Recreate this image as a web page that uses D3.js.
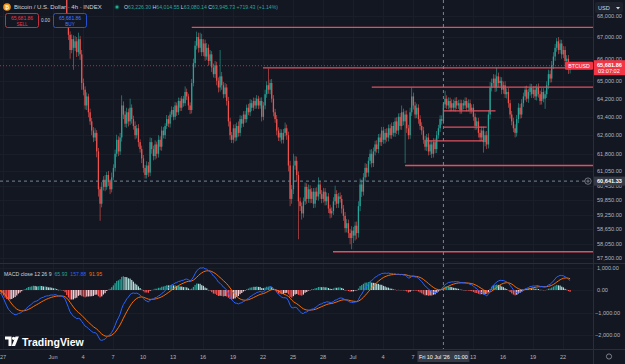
<!DOCTYPE html>
<meta charset="utf-8">
<style>
body { margin: 0; background: #131722; }
svg text { font-family: "Liberation Sans", "DejaVu Sans", sans-serif; }
</style>
<svg width="625" height="364"></svg>
<script src="https://d3js.org/d3.v7.min.js"></script>
<script>
// ---- data (4h candles, BTC index) ----
var startTime = Date.UTC(2026, 4, 25, 1);   // first candle, off-screen left
var firstOpen = 74200;
var closes = [
  74300, 74500, 74700, 74500, 74600, 74400,   // May 25
  74200, 74400, 74000, 73700, 73300, 72800,   // May 26
  71900, 71000, 70600, 70300, 70600, 70200,   // May 27
  70400, 70100, 70500, 70800, 70400, 70700,
  70900, 70600, 71000, 71200, 70900, 71100,
  71300, 71000, 70800, 71100, 71400, 71200,
  71000, 71300, 71100, 70900, 71200, 71000,   // May 31
  70800, 71100, 70600, 70300, 70700, 70400,   // Jun 1
  70100, 69200, 67800, 67100, 66400, 66900,
  66500, 66800, 66300, 66900, 66200, 64900,
  64600, 63900, 64300, 63600, 63200, 62800,
  62500, 62700, 61900, 60300, 59700, 60400,   // Jun 5
  60700, 60400, 60900, 60600, 60300, 60800,
  61200, 61800, 62400, 61900, 62500, 63900,
  63500, 63100, 63600, 63200, 63800, 63300,
  63000, 62600, 62900, 62300, 62000, 61600,
  61200, 60900, 61300, 61000, 62300, 62000,   // Jun 10
  61700, 62200, 61800, 62400, 62100, 62800,
  62600, 63000, 63300, 63100, 63500, 63700,
  63400, 63900, 63600, 64100, 63800, 64200,
  64000, 64500, 64300, 63900, 63700, 64900,
  65800, 66600, 67000, 66500, 66900, 66300,   // Jun 15
  66700, 66100, 66500, 65900, 66200, 65600,
  65300, 65700, 65000, 64700, 65200, 64800,
  64400, 64700, 64100, 63200, 62600, 62400,
  62900, 62500, 63000, 62700, 63300, 63100,
  63500, 63300, 63800, 63600, 64000, 63800,   // Jun 20
  64100, 63900, 64200, 63900, 64100, 63400,
  63900, 64400, 64800, 64600, 64900, 64200,
  63600, 63300, 62800, 62500, 62700, 62400,
  62700, 62900, 62600, 61300, 59900, 60300,
  61300, 61500, 60900, 59800, 59600, 59300,   // Jun 25
  59800, 60400, 59900, 60300, 59900, 60200,
  59700, 60200, 60000, 60500, 60100, 59900,
  60200, 59800, 60000, 59500, 59300, 59400,
  59800, 60100, 59700, 60000, 59900, 59500,
  59200, 58700, 58900, 58500, 58300, 58600,   // Jun 30
  58400, 58800, 58500, 59600, 60500, 60200,   // Jul 1
  60800, 61200, 61000, 61500, 61800, 61400,
  61900, 62200, 62000, 62500, 62300, 62800,
  62400, 62700, 62500, 62900, 62600, 63000,
  62700, 63200, 62800, 63400, 63000, 63600,   // Jul 5
  63200, 63500, 62900, 62600, 63600, 64300,
  63900, 63500, 63800, 63300, 63000, 62800,
  62400, 62100, 62500, 61900, 62200, 61800,
  62300, 62000, 62600, 62900, 63300, 63226.30,
  63945.73, 64200, 63900, 64100, 63800, 64000, // Jul 10
  63800, 64100, 63900, 64000, 63700, 64000,
  63900, 64100, 63800, 64000, 63700, 63800,
  63400, 63000, 63200, 62700, 62500, 62800,
  62300, 62600, 62200, 63500, 64700, 64900,
  65100, 64700, 65200, 64900, 65000, 64600,   // Jul 15
  64800, 64400, 64500, 64000, 63500, 63200,
  62900, 62700, 63300, 63800, 63500, 64000,
  64300, 64600, 64200, 64500, 64700, 64400,
  64600, 64300, 64700, 64400, 64100, 64500,
  64200, 64400, 64800, 65300, 65100, 65700,   // Jul 20
  66100, 66500, 66800, 66400, 66700, 66200,
  66400, 65900, 66000, 65500, 65681.86        // Jul 22
];
var wickUp = [
  120, 90, 150, 80, 110, 140,
  90, 140, 100, 80, 120, 90,
  150, 200, 120, 180, 140, 110,
  120, 150, 100, 180, 90, 130,
  100, 140, 120, 90, 150, 110,
  110, 90, 160, 120, 100, 130,
  130, 100, 120, 150, 90, 110,
  120, 140, 100, 130, 110, 150,
  150, 300, 200, 180, 160, 220,
  180, 250, 200, 300, 150, 200,
  200, 150, 180, 120, 160, 150,
  150, 200, 120, 150, 100, 200,
  150, 200, 130, 170, 120, 200,
  150, 180, 220, 150, 200, 450,
  180, 150, 200, 160, 400, 150,
  150, 200, 150, 180, 120, 150,
  150, 120, 180, 150, 200, 180,
  150, 180, 120, 200, 150, 180,
  150, 120, 180, 150, 130, 160,
  140, 160, 130, 150, 140, 120,
  130, 250, 150, 120, 140, 180,
  200, 220, 250, 200, 300, 250,
  200, 180, 220, 160, 200, 150,
  180, 200, 160, 150, 1200, 200,
  150, 200, 150, 180, 160, 140,
  160, 180, 150, 200, 170, 150,
  150, 160, 140, 170, 180, 150,
  150, 140, 160, 130, 150, 160,
  150, 200, 180, 750, 160, 180,
  160, 150, 180, 140, 170, 150,
  170, 250, 160, 150, 200, 180,
  500, 200, 180, 150, 160, 150,
  160, 180, 150, 200, 170, 150,
  150, 160, 180, 300, 150, 170,
  160, 150, 170, 140, 160, 150,
  170, 350, 160, 150, 170, 160,
  150, 160, 170, 150, 160, 180,
  150, 160, 170, 200, 250, 200,
  180, 200, 170, 160, 180, 200,
  170, 160, 180, 150, 170, 160,
  160, 170, 200, 160, 170, 150,
  170, 160, 180, 150, 170, 300,
  160, 170, 180, 150, 200, 400,
  170, 160, 180, 150, 170, 160,
  160, 170, 150, 180, 160, 170,
  170, 160, 180, 150, 170, 160,
  68.82, 350, 150, 160, 150, 170,
  160, 150, 170, 150, 160, 150,
  150, 160, 150, 170, 160, 150,
  160, 150, 170, 160, 150, 170,
  170, 160, 180, 200, 250, 200,
  200, 180, 400, 170, 180, 160,
  170, 180, 160, 170, 150, 160,
  160, 170, 180, 200, 170, 180,
  170, 160, 180, 150, 170, 160,
  160, 170, 150, 180, 160, 170,
  170, 160, 180, 200, 170, 200,
  200, 180, 150, 200, 180, 170,
  180, 170, 160, 170, 150
];
var wickDown = [
  100, 130, 90, 120, 80, 110,
  120, 80, 150, 110, 130, 160,
  300, 250, 200, 180, 160, 220,
  140, 200, 110, 90, 160, 120,
  130, 90, 120, 150, 100, 140,
  90, 140, 110, 130, 120, 100,
  110, 120, 90, 100, 140, 120,
  100, 130, 160, 120, 90, 140,
  200, 250, 180, 240, 400, 150,
  1000, 150, 220, 180, 250, 300,
  250, 180, 200, 220, 150, 200,
  200, 150, 250, 300, 700, 150,
  150, 180, 120, 160, 200, 130,
  120, 150, 130, 200, 150, 180,
  200, 150, 180, 220, 160, 200,
  160, 180, 140, 200, 150, 200,
  200, 150, 150, 180, 150, 200,
  180, 150, 200, 160, 150, 170,
  140, 160, 130, 150, 170, 120,
  150, 130, 160, 120, 150, 140,
  150, 120, 160, 200, 180, 150,
  150, 200, 180, 220, 200, 180,
  180, 200, 150, 220, 180, 200,
  150, 180, 200, 220, 180, 200,
  180, 150, 200, 220, 200, 140,
  150, 170, 140, 160, 150, 180,
  140, 160, 150, 130, 170, 150,
  130, 150, 140, 160, 140, 200,
  150, 170, 160, 180, 200, 170,
  180, 160, 200, 150, 170, 160,
  160, 150, 200, 250, 300, 200,
  200, 180, 250, 1550, 200, 250,
  170, 150, 200, 160, 180, 170,
  180, 160, 150, 170, 200, 180,
  150, 170, 160, 180, 200, 170,
  160, 150, 180, 170, 150, 200,
  200, 180, 170, 200, 250, 450,
  300, 200, 250, 180, 200, 220,
  160, 180, 200, 170, 150, 180,
  160, 170, 150, 180, 160, 170,
  170, 160, 180, 170, 150, 160,
  160, 170, 150, 180, 160, 170,
  170, 1800, 200, 180, 170, 160,
  180, 170, 160, 200, 170, 180,
  170, 160, 180, 170, 150, 180,
  160, 180, 170, 150, 160, 170,
  146.16, 160, 150, 170, 160, 150,
  150, 170, 160, 150, 170, 160,
  170, 150, 160, 150, 170, 160,
  170, 180, 160, 200, 170, 150,
  450, 180, 200, 170, 200, 180,
  170, 200, 180, 190, 170, 200,
  180, 170, 190, 200, 180, 170,
  170, 200, 160, 170, 180, 160,
  160, 170, 150, 180, 160, 170,
  170, 160, 180, 150, 170, 160,
  160, 450, 170, 160, 180, 170,
  170, 200, 180, 190, 170, 200,
  170, 200, 180, 190, 170
];

// axis ticks
var priceTicks = [68000, 67000, 66000, 65000, 64200, 63400, 62600, 61800, 61050, 60450, 59850, 59250, 58650, 58050, 57500];
var macdTicks = [1000, 0, -1000, -2000];
var tickDates = ["2026-05-27", "2026-06-01", "2026-06-04", "2026-06-07", "2026-06-10", "2026-06-13", "2026-06-16",
  "2026-06-19", "2026-06-22", "2026-06-25", "2026-06-28", "2026-07-01", "2026-07-04", "2026-07-07",
  "2026-07-13", "2026-07-16", "2026-07-19", "2026-07-22"];
var tickLabels = ["27", "Jun", "4", "7", "10", "13", "16", "19", "22", "25", "28", "Jul", "4", "7", "13", "16", "19", "22"];

// horizontal levels drawn on the chart
var levelPrices = [67450, 65580, 64720, 61300, 57750, 63660, 62950, 62350];
var levelFrom = ["2026-06-14T21:00Z", "2026-06-22T00:00Z", "2026-07-02T21:00Z", "2026-07-06T05:00Z", "2026-06-29T00:00Z",
  "2026-07-10T01:00Z", "2026-07-10T01:00Z", "2026-07-08T09:00Z"];
var levelTo = [null, null, null, null, null, "2026-07-15T06:00Z", "2026-07-14T09:00Z", "2026-07-14T01:00Z"];

var crossTime = "2026-07-10T01:00Z", crossPrice = 60641.33;
var countdown = "03:07:02";

// ---- layout ----
var svg = d3.select("svg");
var plotR = 593, mainB = 263, macdT = 264, macdB = 349;
var bg = "#131722", gridColor = "#1a1e29", sepColor = "#2a2e39", axisText = "#b2b5be";
var upColor = "#26a69a", downColor = "#ef5350", levelColor = "#e0515f";

var x = d3.scaleUtc()
    .domain([new Date("2026-05-27T00:00Z"), new Date("2026-07-22T00:00Z")])
    .range([3, 563]);
var y = d3.scaleLog().domain([57500, 67000]).range([258, 37]);
var ym = d3.scaleLinear().domain([-2000, 1000]).range([335, 267.5]);

var H4 = 4 * 3600 * 1000;
var candles = closes.map(function(c, i) {
  var o = i ? closes[i - 1] : firstOpen;
  return { t: new Date(startTime + i * H4), o: o, c: c,
           h: Math.max(o, c) + wickUp[i], l: Math.min(o, c) - wickDown[i] };
});

// MACD 12 26 9 on close
function ema(vals, n) {
  var k = 2 / (n + 1), e = vals[0];
  return vals.map(function(v, i) { if (i) e = v * k + e * (1 - k); return e; });
}
var e12 = ema(closes, 12), e26 = ema(closes, 26);
var macd = closes.map(function(c, i) { return e12[i] - e26[i]; });
var signal = ema(macd, 9);
var hist = macd.map(function(m, i) { return m - signal[i]; });

svg.append("rect").attr("width", 625).attr("height", 364).attr("fill", bg);

var defs = svg.append("defs");
defs.append("clipPath").attr("id", "clipMain").append("rect")
    .attr("x", 0).attr("y", 0).attr("width", plotR).attr("height", mainB);
defs.append("clipPath").attr("id", "clipMacd").append("rect")
    .attr("x", 0).attr("y", macdT).attr("width", plotR).attr("height", macdB - macdT);

// grid
var grid = svg.append("g").attr("stroke", gridColor).attr("stroke-width", 1);
grid.selectAll(".gx").data(tickDates).enter().append("line")
    .attr("x1", function(d) { return Math.round(x(new Date(d))) + 0.5; })
    .attr("x2", function(d) { return Math.round(x(new Date(d))) + 0.5; })
    .attr("y1", 0).attr("y2", macdB);
grid.selectAll(".gy").data(priceTicks).enter().append("line")
    .attr("x1", 0).attr("x2", plotR)
    .attr("y1", function(d) { return Math.round(y(d)) + 0.5; })
    .attr("y2", function(d) { return Math.round(y(d)) + 0.5; });
grid.selectAll(".gm").data(macdTicks).enter().append("line")
    .attr("x1", 0).attr("x2", plotR)
    .attr("y1", function(d) { return Math.round(ym(d)) + 0.5; })
    .attr("y2", function(d) { return Math.round(ym(d)) + 0.5; });

// candles
var cg = svg.append("g").attr("clip-path", "url(#clipMain)");
var candle = cg.selectAll("g").data(candles).enter().append("g")
    .attr("fill", function(d) { return d.c >= d.o ? upColor : downColor; });
candle.append("rect")
    .attr("x", function(d) { return x(d.t) - 0.3; })
    .attr("width", 0.6)
    .attr("y", function(d) { return y(d.h); })
    .attr("height", function(d) { return Math.max(0.5, y(d.l) - y(d.h)); });
candle.append("rect")
    .attr("x", function(d) { return x(d.t) - 0.65; })
    .attr("width", 1.3)
    .attr("y", function(d) { return y(Math.max(d.o, d.c)); })
    .attr("height", function(d) { return Math.max(0.8, Math.abs(y(d.o) - y(d.c))); });

// levels
var lg = svg.append("g").attr("clip-path", "url(#clipMain)")
    .attr("stroke", levelColor).attr("stroke-width", 1.3);
levelPrices.forEach(function(p, i) {
  lg.append("line")
    .attr("x1", x(new Date(levelFrom[i])))
    .attr("x2", levelTo[i] ? x(new Date(levelTo[i])) : plotR)
    .attr("y1", y(p)).attr("y2", y(p));
});

// last price line
var last = candles[candles.length - 1];
svg.append("line").attr("x1", 0).attr("x2", plotR)
    .attr("y1", y(last.c)).attr("y2", y(last.c))
    .attr("stroke", downColor).attr("stroke-width", 1)
    .attr("stroke-dasharray", "1,2").attr("opacity", 0.6);

// MACD pane
var mg = svg.append("g").attr("clip-path", "url(#clipMacd)");
mg.selectAll("rect").data(candles).enter().append("rect")
    .attr("x", function(d) { return x(d.t) - 0.6; })
    .attr("width", 1.2)
    .attr("y", function(d, i) { return Math.min(ym(0), ym(hist[i])); })
    .attr("height", function(d, i) { return Math.max(0.4, Math.abs(ym(hist[i]) - ym(0))); })
    .attr("fill", function(d, i) {
      var h = hist[i], p = i ? hist[i - 1] : h;
      if (h >= 0) return h > p ? "#26a69a" : "#b2dfdb";
      return h < p ? "#ff5252" : "#ffcdd2";
    });
var mline = d3.line().x(function(d) { return x(d.t); });
mg.append("path").datum(candles)
    .attr("d", mline.y(function(d, i) { return ym(signal[i]); }))
    .attr("fill", "none").attr("stroke", "#ff6d00").attr("stroke-width", 1);
mg.append("path").datum(candles)
    .attr("d", mline.y(function(d, i) { return ym(macd[i]); }))
    .attr("fill", "none").attr("stroke", "#2962ff").attr("stroke-width", 1);

// crosshair
var cx = x(new Date(crossTime)), cy = y(crossPrice);
svg.append("line").attr("x1", cx).attr("x2", cx).attr("y1", 0).attr("y2", macdB)
    .attr("stroke", "#758696").attr("stroke-dasharray", "3,3");
svg.append("line").attr("x1", 0).attr("x2", plotR).attr("y1", cy).attr("y2", cy)
    .attr("stroke", "#758696").attr("stroke-dasharray", "3,3");

// separators
svg.append("line").attr("x1", 0).attr("x2", 625).attr("y1", mainB + 0.5).attr("y2", mainB + 0.5).attr("stroke", sepColor);
svg.append("line").attr("x1", 0).attr("x2", 625).attr("y1", macdB + 0.5).attr("y2", macdB + 0.5).attr("stroke", sepColor);
svg.append("line").attr("x1", plotR + 0.5).attr("x2", plotR + 0.5).attr("y1", 0).attr("y2", 364).attr("stroke", sepColor);

// price axis
var fmt = d3.format(",.2f");
svg.append("g").selectAll("text").data(priceTicks).enter().append("text")
    .attr("x", 597).attr("y", function(d) { return y(d) + 2; })
    .attr("font-size", 5.6).attr("fill", axisText)
    .text(function(d) { return fmt(d); });
svg.append("g").selectAll("text").data(macdTicks).enter().append("text")
    .attr("x", function(d) { return d < 0 ? 595 : 597; }).attr("y", function(d) { return ym(d) + 2; })
    .attr("font-size", 5.6).attr("fill", axisText)
    .text(function(d) { return d === 0 ? "0.00" : fmt(d); });

// USD selector
svg.append("rect").attr("x", 595).attr("y", 2).attr("width", 28).attr("height", 11).attr("rx", 2).attr("fill", "#1e222d");
svg.append("text").attr("x", 598).attr("y", 9.8).attr("font-size", 5.6).attr("fill", "#d1d4dc").text("USD");
svg.append("path").attr("d", "M616,7 L620,7 L618,9.5 Z").attr("fill", "#d1d4dc");

// last price label
svg.append("rect").attr("x", 594).attr("y", y(last.c) - 5.5).attr("width", 31).attr("height", 15).attr("fill", "#f23645");
svg.append("text").attr("x", 597).attr("y", y(last.c) + 1.5).attr("font-size", 5.6).attr("font-weight", "bold").attr("fill", "#fff").text(fmt(last.c));
svg.append("text").attr("x", 598).attr("y", y(last.c) + 7.5).attr("font-size", 5.6).attr("fill", "#fff").text(countdown);
svg.append("rect").attr("x", 565).attr("y", y(last.c) - 4).attr("width", 28).attr("height", 8).attr("rx", 1).attr("fill", "#f23645");
svg.append("text").attr("x", 579).attr("y", y(last.c) + 1.8).attr("text-anchor", "middle").attr("font-size", 5.2).attr("fill", "#fff").text("BTCUSD");

// crosshair labels
svg.append("rect").attr("x", 594).attr("y", cy - 4.5).attr("width", 31).attr("height", 9).attr("fill", "#363a45");
svg.append("text").attr("x", 597).attr("y", cy + 2).attr("font-size", 5.6).attr("font-weight", "bold").attr("fill", "#fff").text(fmt(crossPrice));
svg.append("circle").attr("cx", 588).attr("cy", cy).attr("r", 3.2).attr("fill", bg).attr("stroke", "#9598a1").attr("stroke-width", 0.7);
svg.append("path").attr("d", "M586.3," + cy + " h3.4 M588," + (cy - 1.7) + " v3.4").attr("stroke", "#9598a1").attr("stroke-width", 0.7);

// time axis
svg.append("g").selectAll("text").data(tickDates).enter().append("text")
    .attr("x", function(d) { return x(new Date(d)); }).attr("y", 359)
    .attr("text-anchor", "middle").attr("font-size", 5.6).attr("fill", axisText)
    .text(function(d, i) { return tickLabels[i]; });
svg.append("rect").attr("x", cx - 26).attr("y", 351).attr("width", 52).attr("height", 11).attr("fill", "#363a45");
svg.append("text").attr("x", cx).attr("y", 358.5).attr("text-anchor", "middle").attr("font-size", 5.4)
    .attr("fill", "#fff").attr("xml:space", "preserve").text("Fri 10 Jul '26   01:00");
svg.append("circle").attr("cx", 609).attr("cy", 356.5).attr("r", 2.6).attr("fill", "none").attr("stroke", "#9598a1").attr("stroke-width", 0.8);

// legend
var ci = d3.bisector(function(d) { return d.t; }).left(candles, new Date(crossTime));
var cc = candles[ci], chg = cc.c - candles[ci - 1].c;
svg.append("circle").attr("cx", 7).attr("cy", 7).attr("r", 3.8).attr("fill", "#f7931a");
svg.append("text").attr("x", 7).attr("y", 9).attr("text-anchor", "middle").attr("font-size", 5).attr("font-weight", "bold").attr("fill", "#fff").text("₿");
svg.append("text").attr("x", 14).attr("y", 9.2).attr("font-size", 6).attr("fill", "#d1d4dc").text("Bitcoin / U.S. Dollar · 4h · INDEX");
svg.append("circle").attr("cx", 117).attr("cy", 7).attr("r", 2.6).attr("fill", "#0c3b33");
svg.append("circle").attr("cx", 117).attr("cy", 7).attr("r", 1.5).attr("fill", "#22ab94");
var ohlc = svg.append("text").attr("x", 124).attr("y", 9).attr("font-size", 5.2);
[["O", cc.o], ["H", cc.h], ["L", cc.l], ["C", cc.c]].forEach(function(p) {
  ohlc.append("tspan").attr("fill", "#d1d4dc").text(p[0]);
  ohlc.append("tspan").attr("fill", upColor).text(fmt(p[1]) + " ");
});
ohlc.append("tspan").attr("fill", upColor)
    .text("+" + fmt(chg) + " (+" + d3.format(".2f")(chg / candles[ci - 1].c * 100) + "%)");

// sell / buy
svg.append("rect").attr("x", 5.5).attr("y", 13.5).attr("width", 33).attr("height", 14).attr("rx", 2)
    .attr("fill", bg).attr("stroke", "#f23645").attr("stroke-width", 0.8);
svg.append("text").attr("x", 22).attr("y", 19.5).attr("text-anchor", "middle").attr("font-size", 5).attr("fill", "#f23645").text(fmt(last.c));
svg.append("text").attr("x", 22).attr("y", 25.5).attr("text-anchor", "middle").attr("font-size", 4.6).attr("fill", "#f23645").text("SELL");
svg.append("text").attr("x", 45.5).attr("y", 21.5).attr("text-anchor", "middle").attr("font-size", 4.6).attr("fill", "#d1d4dc").text("0.00");
svg.append("rect").attr("x", 53.5).attr("y", 13.5).attr("width", 33).attr("height", 14).attr("rx", 2)
    .attr("fill", bg).attr("stroke", "#2962ff").attr("stroke-width", 0.8);
svg.append("text").attr("x", 70).attr("y", 19.5).attr("text-anchor", "middle").attr("font-size", 5).attr("fill", "#4a7dff").text(fmt(last.c));
svg.append("text").attr("x", 70).attr("y", 25.5).attr("text-anchor", "middle").attr("font-size", 4.6).attr("fill", "#4a7dff").text("BUY");

// MACD legend
var ml = svg.append("text").attr("x", 4).attr("y", 276).attr("font-size", 5.2).attr("xml:space", "preserve");
ml.append("tspan").attr("fill", "#d1d4dc").text("MACD close 12 26 9  ");
ml.append("tspan").attr("fill", upColor).text("65.93  ");
ml.append("tspan").attr("fill", "#2962ff").text("157.88  ");
ml.append("tspan").attr("fill", "#ff6d00").text("91.95");

// TradingView logo
var logo = svg.append("g").attr("fill", "#fff");
logo.append("path").attr("d", "M5,336.5 h6.5 v9.5 h-3 v-6.5 h-3.5 Z");
logo.append("circle").attr("cx", 13.6).attr("cy", 338.3).attr("r", 1.6);
logo.append("path").attr("d", "M15.5,336.5 h3.4 l-3.8,9.5 h-3.4 Z");
logo.append("text").attr("x", 22).attr("y", 345.5).attr("font-size", 10.5).attr("font-weight", "bold").text("TradingView");
</script>
